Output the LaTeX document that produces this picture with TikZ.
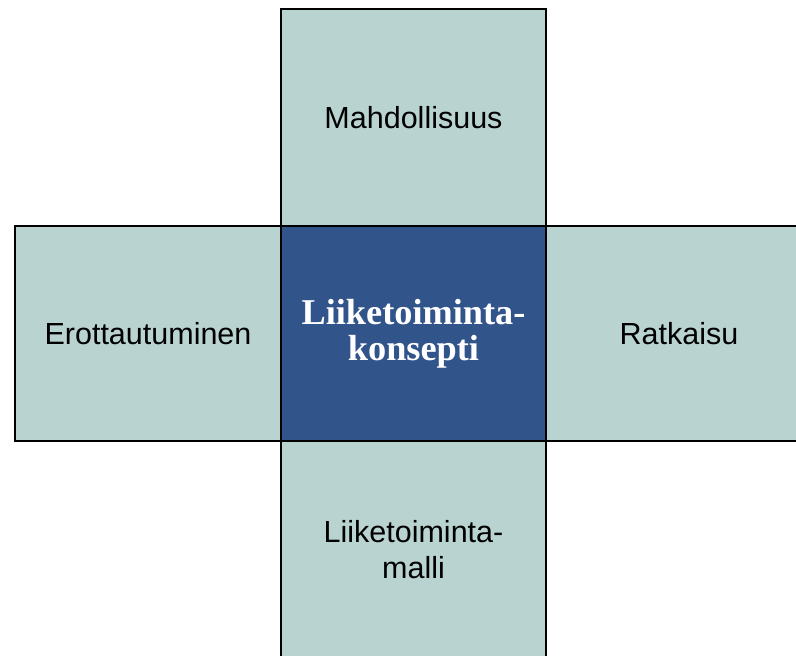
\documentclass[tikz,border=0pt]{standalone}
\usepackage{fontspec}
\setmainfont{Liberation Sans}
\newfontfamily\serifbold{Liberation Serif}
\definecolor{lightbox}{HTML}{B9D4D0}
\definecolor{darkbox}{HTML}{31548A}
\begin{document}
\begin{tikzpicture}[x=1pt,y=-1pt,
  outerbox/.style={draw=black,line width=1.3pt,fill=lightbox,rectangle,inner sep=0pt,
    minimum width=265pt,minimum height=216pt,align=center,
    font=\fontsize{30.5}{36}\selectfont,text=black},
  centerbox/.style={draw=black,line width=1.3pt,fill=darkbox,rectangle,inner sep=0pt,
    minimum width=265pt,minimum height=215pt,align=center,
    font=\serifbold\bfseries\fontsize{36.3}{36}\selectfont,text=white}]
\useasboundingbox (0,0) rectangle (796,656);
\clip (0,0) rectangle (796,656);
\node[outerbox,minimum height=217pt] (top) at (413.5,117.5) {Mahdollisuus};
\node[outerbox,minimum width=266pt,minimum height=215pt] (left) at (148,333.5) {Erottautuminen};
\node[outerbox,minimum width=266pt,minimum height=215pt] (right) at (679,333.5) {Ratkaisu};
\node[outerbox,minimum height=217pt] (bottom) at (413.5,549.5) {Liiketoiminta-\\malli};
\node[centerbox] (center) at (413.5,333.5) {Liiketoiminta-\\konsepti};
\end{tikzpicture}
\end{document}
